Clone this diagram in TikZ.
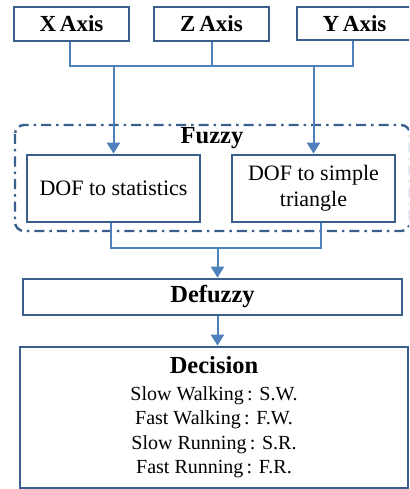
\documentclass[tikz,border=0pt]{standalone}
\usepackage{fontspec}
\setmainfont{Liberation Serif}
\usetikzlibrary{arrows.meta,calc}
\definecolor{boxc}{HTML}{3B5F8C}
\definecolor{linec}{HTML}{4F81BD}
\begin{document}
\begin{tikzpicture}[x=1pt,y=-1pt,
  box/.style={draw=boxc,line width=2.6pt,inner sep=2pt,align=center},
  conn/.style={draw=linec,line width=2pt},
  arr/.style={conn,-{Triangle[width=13pt,length=11pt]}},
  frame/.style={draw=boxc,line width=2.4pt,rounded corners=9pt,
    dash pattern=on 10pt off 5pt on 2.5pt off 5pt}]
\useasboundingbox (0,0) rectangle (409,489);
\clip (0,0) rectangle (409,489);
% top boxes
\node[box,minimum width=115pt,minimum height=34pt,font=\fontsize{23}{24}\selectfont\bfseries] (xa) at (71.5,24) {X\,Axis};
\node[box,minimum width=115pt,minimum height=34pt,font=\fontsize{23}{24}\selectfont\bfseries] (za) at (211.5,24) {Z\,Axis};
\node[box,minimum width=115pt,minimum height=33pt,font=\fontsize{23}{24}\selectfont\bfseries] (ya) at (354.5,23.5) {Y\,Axis};
% fuzzy frame
\draw[frame] (15,125) rectangle (410,231);
\node[font=\fontsize{24.5}{26}\selectfont\bfseries] (fz) at (212,138) {Fuzzy};
\node[box,minimum width=173pt,minimum height=67pt,font=\fontsize{22}{26}\selectfont] (ds) at (113.5,188.5) {DOF to statistics};
\node[box,minimum width=163pt,minimum height=67pt,font=\fontsize{22}{26}\selectfont] (dt) at (313.5,188.5) {DOF to simple\\triangle};
% defuzzy and decision
\node[box,minimum width=379pt,minimum height=36pt,font=\fontsize{24.5}{26}\selectfont\bfseries] (df) at (212.5,297) {Defuzzy};
\node[box,minimum width=388pt,minimum height=141pt,font=\fontsize{20}{24.5}\selectfont] (dc) at (214,417.5)
  {{\fontsize{24.5}{26}\selectfont\bfseries Decision}\\[2pt]
   Slow Walking\,: S.W.\\ Fast Walking\,: F.W.\\ Slow Running\,: S.R.\\ Fast Running\,: F.R.};
% connectors top
\coordinate (j1) at (70,66);
\coordinate (j2) at (353,66);
\coordinate (a1) at (113.5,66);
\coordinate (a2) at (313.5,66);
\draw[conn] (xa.south -| j1) -- (j1) -- (j2) -- (ya.south -| j2);
\draw[conn] (za.south) -- (za.south |- j1);
\draw[arr] (a1) -- (ds.north);
\draw[arr] (a2) -- (dt.north);
% connectors bottom
\coordinate (b1) at (111,248);
\coordinate (b2) at (321,248);
\coordinate (m) at (217.5,248);
\draw[conn] (ds.south -| b1) -- (b1) -- (b2) -- (dt.south -| b2);
\draw[arr] (m) -- (df.north -| m);
\draw[arr] (df.south -| m) -- (dc.north -| m);
\end{tikzpicture}
\end{document}
